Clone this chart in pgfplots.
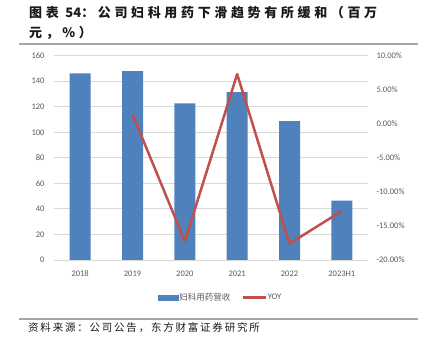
\documentclass[border=0pt]{standalone}
\usepackage{fontspec}
\usepackage{pgfplots}
\pgfplotsset{compat=1.18}
\setmainfont{Carlito}
\newfontfamily\cjk{Noto Sans CJK SC}
\newfontfamily\titlefont{Noto Sans CJK SC}[LetterSpace=28]
\newfontfamily\srcfont{Noto Sans CJK SC}[LetterSpace=17]
\definecolor{barblue}{HTML}{4F81BD}
\definecolor{yoyred}{HTML}{C0504D}
\definecolor{txtgray}{HTML}{595959}
\definecolor{gridgray}{HTML}{D9D9D9}
\definecolor{rulegray}{HTML}{A6A6A6}
\begin{document}
\begin{tikzpicture}[x=1pt,y=1pt]
\useasboundingbox (0,0) rectangle (430,352);
% title
\node[anchor=west, inner sep=0, text=black!90] at (29,339) {\titlefont\bfseries\fontsize{13}{13}\selectfont 图表 {\cjk\bfseries 54}：公司妇科用药下滑趋势有所缓和（百万};
\node[anchor=west, inner sep=0, text=black!90] at (29,319) {\titlefont\bfseries\fontsize{13}{13}\selectfont 元，\%）};
\draw[rulegray, line width=1.5pt] (19,308) -- (418,308);
\draw[rulegray, line width=1.5pt] (19,33) -- (418,33);
\node[anchor=west, inner sep=0, text=black!90] at (28,24) {\srcfont\fontsize{10.5}{10.5}\selectfont 资料来源：公司公告，东方财富证券研究所};

\begin{axis}[
  at={(54pt,92pt)}, anchor=south west,
  width=314pt, height=204.3pt, scale only axis,
  xmin=-0.5, xmax=5.5, ymin=0, ymax=160,
  ytick={0,20,...,160},
  xtick={0,...,5}, xticklabels={2018,2019,2020,2021,2022,2023H1},
  axis line style={draw=none}, major tick length=0pt,
  ymajorgrids, grid style={gridgray, line width=0.9pt},
  /pgf/number format/assume math mode=true,
  tick label style={font=\fontsize{8.5}{10}\selectfont, text=txtgray},
  yticklabel style={anchor=east, xshift=-6pt},
  xticklabel style={yshift=-7pt},
]
\addplot[ybar, bar width=21pt, fill=barblue, draw=none] coordinates {
  (0,146.1) (1,148.0) (2,122.6) (3,131.5) (4,108.8) (5,46.4)};
\end{axis}

\begin{axis}[
  at={(54pt,92pt)}, anchor=south west,
  width=314pt, height=204.3pt, scale only axis,
  xmin=-0.5, xmax=5.5, ymin=-20, ymax=10,
  ytick={-20,-15,...,10},
  hide x axis, axis y line*=right,
  axis line style={draw=none}, major tick length=0pt,
  /pgf/number format/assume math mode=true,
  yticklabel={\pgfmathprintnumber[fixed,fixed zerofill,precision=2]{\tick}\%},
  tick label style={font=\fontsize{8.5}{10}\selectfont, text=txtgray},
  yticklabel style={anchor=west, xshift=5pt},
  legend columns=2,
  legend style={at={(0.529,-0.1845)}, anchor=center, draw=none, fill=none,
    font=\fontsize{8.5}{10}\selectfont, text=txtgray,
    /tikz/every even column/.append style={column sep=10pt},
    nodes={inner sep=1pt}},
]
\addlegendimage{legend image code/.code={\fill[barblue] (0pt,-2.5pt) rectangle (20pt,2.5pt);}}
\addlegendentry{\cjk 妇科用药营收}
\addplot[yoyred, line width=2.5pt, line join=round,
  legend image code/.code={\draw[yoyred,line width=2.5pt] (0pt,0pt) -- (23pt,0pt);}]
  coordinates {(1,1.4) (2,-17.25) (3,7.3) (4,-17.6) (5,-12.8)};
\addlegendentry{YOY}
\end{axis}
\end{tikzpicture}
\end{document}
